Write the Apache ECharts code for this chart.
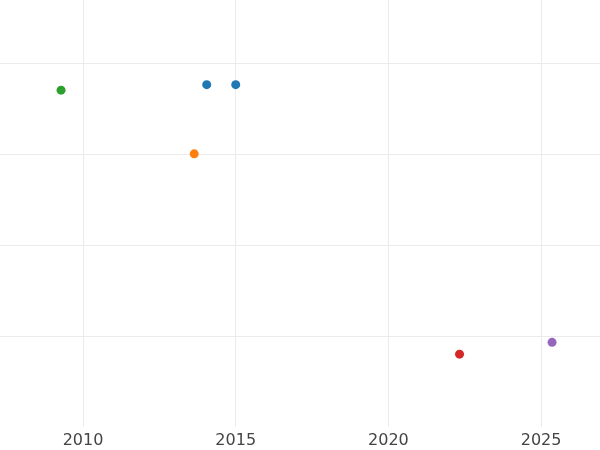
<!DOCTYPE html>
<html>
<head>
<meta charset="utf-8">
<script src="https://cdn.jsdelivr.net/npm/echarts@6/dist/echarts.min.js"></script>
<style>html,body{margin:0;padding:0;background:#fff}#main{width:600px;height:450px}</style>
</head>
<body>
<div id="main"></div>
<script>
var years = [2014.05, 2015.0, 2013.64, 2009.28, 2022.33, 2025.36];
var values = [3.76, 3.76, 3.0, 3.70, 0.80, 0.93];
var colors = ["#1f77b4", "#1f77b4", "#ff7f0e", "#2ca02c", "#d62728", "#9467bd"];
var xTicks = [2010, 2015, 2020, 2025];
var yTicks = [1, 2, 3, 4];

var points = years.map(function (x, i) {
  return { value: [x, values[i]], itemStyle: { color: colors[i], opacity: 1 } };
});
var gridLines = xTicks.map(function (t) { return { xAxis: t }; })
  .concat(yTicks.map(function (t) { return { yAxis: t }; }));

var myChart = echarts.init(document.getElementById("main"));
myChart.setOption({
  animation: false,
  grid: { left: 0, right: 0, top: 0, bottom: 23, containLabel: false },
  xAxis: {
    type: "value", min: 2007.28, max: 2026.93,
    axisLine: { show: false }, axisTick: { show: false },
    axisLabel: {
      customValues: xTicks, color: "#444", fontSize: 16, margin: 6,
      fontFamily: "DejaVu Sans", formatter: function (v) { return String(v); }
    },
    splitLine: { show: false }
  },
  yAxis: {
    type: "value", min: 0, max: 4.69,
    axisLine: { show: false }, axisTick: { show: false },
    axisLabel: { show: false }, splitLine: { show: false }
  },
  series: [{
    type: "scatter", symbolSize: 9, data: points, z: 3,
    markLine: {
      silent: true, symbol: "none", label: { show: false },
      lineStyle: { color: "#ebebeb", type: "solid", width: 1 },
      data: gridLines, z: 1
    }
  }]
});
</script>
</body>
</html>
